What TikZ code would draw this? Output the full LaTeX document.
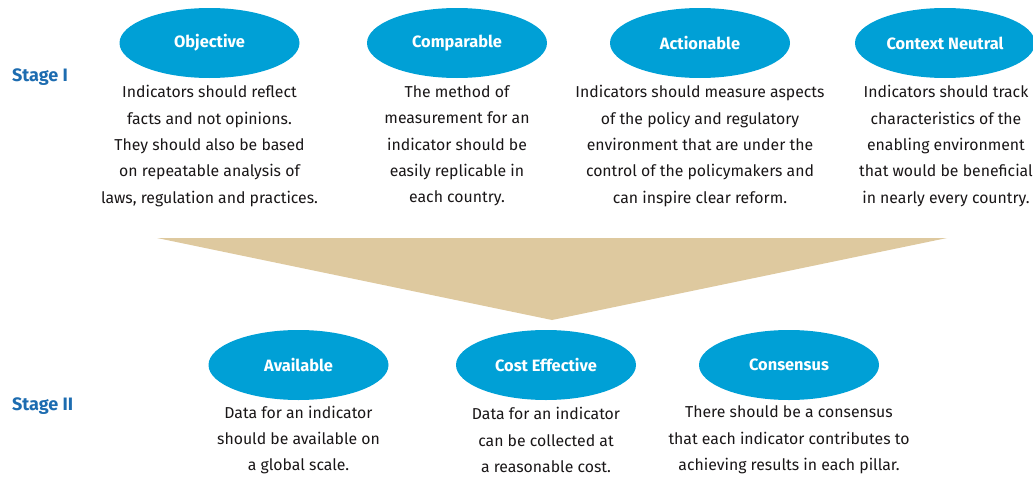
\documentclass[tikz,border=0pt]{standalone}
\usepackage{fontspec}
\setmainfont{Fira Sans}
\usetikzlibrary{shapes.geometric}
\definecolor{ellblue}{RGB}{0,160,214}
\definecolor{stageblue}{RGB}{29,108,176}
\definecolor{tan}{RGB}{222,201,159}
\definecolor{bodytext}{RGB}{25,22,23}
\tikzset{
  crit/.style={ellipse, fill=ellblue, minimum width=180pt, minimum height=70pt, inner sep=0pt,
    text=white, font=\fontsize{16.4}{19}\selectfont\bfseries},
  desc/.style={align=center, text=bodytext, inner sep=0pt,
    font=\fontsize{15.8}{26.3}\selectfont},
  stagelbl/.style={anchor=west, text=stageblue, inner sep=0pt, font=\fontsize{18}{21}\selectfont\bfseries}
}
\begin{document}
\begin{tikzpicture}[x=1pt,y=-1pt]
\useasboundingbox (0,0) rectangle (1033,479);
\clip (0,0) rectangle (1033,479);
% funnel
\fill[tan] (157,238) -- (947,238) -- (552,320) -- cycle;
% stage labels
\node[stagelbl] (s1) at (12,77) {Stage I};
\node[stagelbl] (s2) at (12,406) {Stage II};
% stage I
\node[crit] (obj) at (209.5,43) {Objective};
\node[crit] (cmp) at (457,43) {Comparable};
\node[crit] (act) at (700,43) {Actionable};
\node[crit] (ctx) at (945,43) {Context Neutral};
\node[desc] (objd) at (209.5,146) {Indicators should reflect\\facts and not opinions.\\They should also be based\\on repeatable analysis of\\laws, regulation and practices.};
\node[desc] (cmpd) at (457,146) {The method of\\measurement for an\\indicator should be\\easily replicable in\\each country.};
\node[desc] (actd) at (700,146) {Indicators should measure aspects\\of the policy and regulatory\\environment that are under the\\control of the policymakers and\\can inspire clear reform.};
\node[desc] (ctxd) at (946,146) {Indicators should track\\characteristics of the\\enabling environment\\that would be beneficial\\in nearly every country.};
% stage II
\node[crit] (avl) at (298.5,365) {Available};
\node[crit] (cst) at (546,365) {Cost Effective};
\node[crit] (cns) at (789,365) {Consensus};
\node[desc] (avld) at (298.5,440) {Data for an indicator\\should be available on\\a global scale.};
\node[desc] (cstd) at (546,440) {Data for an indicator\\can be collected at\\a reasonable cost.};
\node[desc] (cnsd) at (789,440) {There should be a consensus\\that each indicator contributes to\\achieving results in each pillar.};
\end{tikzpicture}
\end{document}
